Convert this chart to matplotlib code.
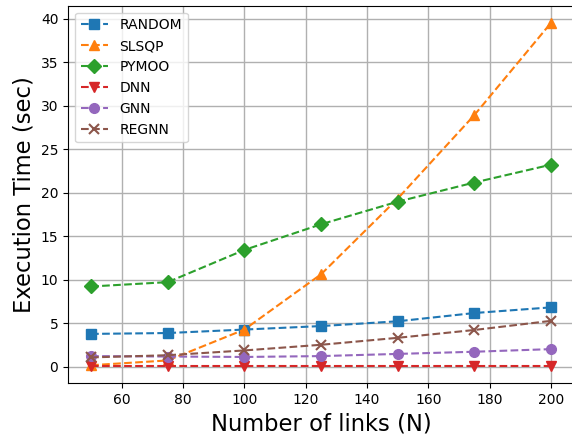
import numpy as np
import matplotlib
matplotlib.use('Agg')
import matplotlib.pyplot as plt

links = [50, 75, 100, 125, 150, 175, 200]

random_t = [3.75, 3.85, 4.25, 4.65, 5.2, 6.15, 6.8]
slsqp_t = [0.15, 0.7, 4.25, 10.6, 19.3, 28.9, 39.5]
pymoo_t = [9.2, 9.7, 13.4, 16.35, 18.95, 21.15, 23.2]
dnn_t = [0.1, 0.1, 0.1, 0.1, 0.1, 0.1, 0.1]
gnn_t = [1.2, 1.15, 1.1, 1.2, 1.45, 1.7, 2.0]
regnn_t = [1.05, 1.3, 1.85, 2.5, 3.3, 4.2, 5.25]

fig, ax = plt.subplots(figsize=(5.72, 4.4), dpi=100)
fig.subplots_adjust(left=0.119, right=1.0035, top=0.987, bottom=0.13)

ax.plot(links, random_t, 's--', markersize=7, label='RANDOM')
ax.plot(links, slsqp_t, '^--', markersize=7, label='SLSQP')
ax.plot(links, pymoo_t, 'D--', markersize=7, label='PYMOO')
ax.plot(links, dnn_t, 'v--', markersize=7, label='DNN')
ax.plot(links, gnn_t, 'o--', markersize=7, label='GNN')
ax.plot(links, regnn_t, 'x--', markersize=7, markeredgewidth=1.5, label='REGNN')

ax.grid(True, linewidth=1)
ax.set_xlabel('Number of links (N)', fontsize=16.3)
ax.set_ylabel('Execution Time (sec)', fontsize=16.3)
ax.legend(loc='upper left')

fig.savefig('out.png')
